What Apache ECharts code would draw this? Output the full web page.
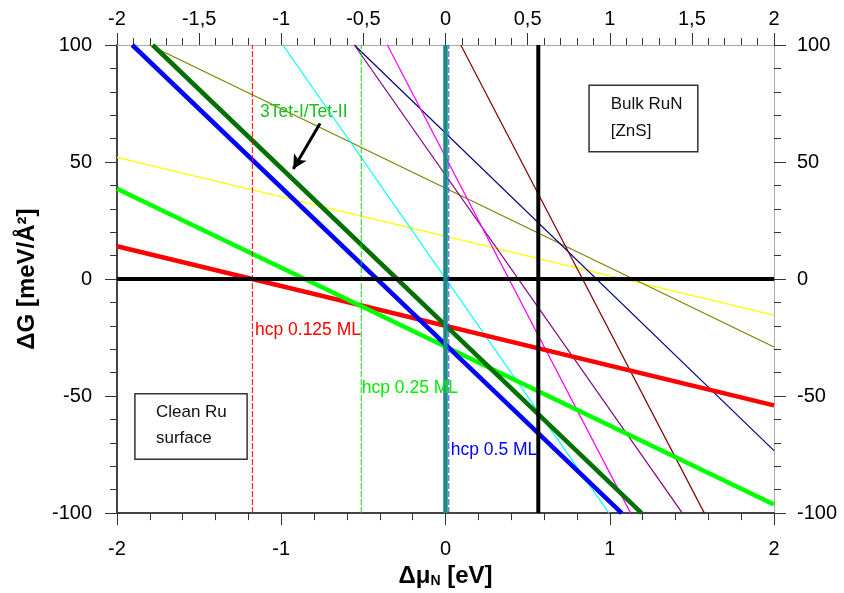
<!DOCTYPE html>
<html>
<head>
<meta charset="utf-8">
<script src="https://cdn.jsdelivr.net/npm/echarts@6/dist/echarts.min.js"></script>
<style>html,body{margin:0;padding:0;background:#fff;}#c{width:844px;height:593px;}</style>
</head>
<body>
<div id="c"></div>
<script>
// ---- data (x = Δμ_N [eV], y = ΔG [meV/Å²]) ----
const hcp0125   = [[-2, 14], [2, -54]];          // red thick
const hcp025    = [[-2, 38.6], [2, -96.3]];      // light green thick
const hcp05     = [[-1.907, 100], [1.073, -100]]; // blue thick
const tet3      = [[-1.783, 100], [1.194, -100]]; // dark green thick
const yellowL   = [[-2, 52], [2, -15.4]];
const oliveL    = [[-1.803, 100], [2, -29]];
const cyanL     = [[-0.99, 100], [0.995, -100]];
const navyL     = [[-0.555, 100], [2, -73.3]];
const purpleL   = [[-0.555, 100], [1.442, -100]];
const magentaL  = [[-0.354, 100], [1.127, -100]];
const brownL    = [[0.093, 100], [1.576, -100]];
const zeroLine  = [[-2, 0], [2, 0]];
const vRed      = [[-1.176, -100], [-1.176, 100]];
const vGreen    = [[-0.513, -100], [-0.513, 100]];
const vTeal     = [[0, -100], [0, 100]];
const vBlue     = [[0.02, -100], [0.02, 100]];
const vBlack    = [[0.565, -100], [0.565, 100]];
const arrowFrom = [-0.764, 66.5];
const arrowTo   = [-0.927, 47];
const labels = [
  {text: '3Tet-I/Tet-II', at: [-1.129, 71.1], color: '#1fbf1f'},
  {text: 'hcp 0.125 ML', at: [-1.160, -21.9], color: '#ff0000'},
  {text: 'hcp 0.25 ML',  at: [-0.510, -46.5], color: '#00ee00'},
  {text: 'hcp 0.5 ML',   at: [0.032, -73.0], color: '#0000ff'}
];
const boxes = [
  {lines: ['Bulk RuN', '[ZnS]'], box: [0.874, 82.8, 1.536, 54.4], textX: 1.006, lineY: [74.6, 63.0]},
  {lines: ['Clean Ru', 'surface'], box: [-1.891, -49.0, -1.208, -77.0], textX: -1.763, lineY: [-56.8, -68.1]}
];

const FONT = 'Liberation Sans, Arial, Helvetica, sans-serif';
const chart = echarts.init(document.getElementById('c'));

function ln(data, color, width, type, z) {
  return {type: 'line', data: data, showSymbol: false, symbol: 'none', silent: true,
    animation: false, clip: true, z: z || 2,
    lineStyle: {color: color, width: width, type: type || 'solid', dashOffset: 0, cap: 'butt'}};
}

const tickStyle = {color: '#333', width: 1};
function xAxis(pos, interval, fmt, margin, lineColor) {
  return {type: 'value', position: pos, min: -2, max: 2, interval: interval,
    axisLine: {show: true, onZero: false, lineStyle: {color: lineColor, width: pos === 'bottom' ? 2 : 1}},
    axisTick: {show: true, length: 12, lineStyle: tickStyle},
    minorTick: {show: true, splitNumber: 5, length: 7, lineStyle: tickStyle},
    splitLine: {show: false},
    axisLabel: {color: '#000', fontSize: 20, fontFamily: FONT, margin: margin, formatter: fmt}};
}
function yAxis(pos, margin, lineColor) {
  return {type: 'value', position: pos, min: -100, max: 100, interval: 50,
    axisLine: {show: true, onZero: false, lineStyle: {color: lineColor, width: pos === 'left' ? 2 : 1}},
    axisTick: {show: true, length: 12, lineStyle: tickStyle},
    minorTick: {show: true, splitNumber: 5, length: 7, lineStyle: tickStyle},
    splitLine: {show: false},
    axisLabel: {color: '#000', fontSize: 20, fontFamily: FONT, margin: margin}};
}

const xb = xAxis('bottom', 1, v => String(v), 26, '#444');
xb.name = '{a|Δμ}{b|N}{a| [eV]}';
xb.nameLocation = 'middle';
xb.nameGap = 50;
xb.nameTextStyle = {rich: {
  a: {fontSize: 24, fontWeight: 'bold', fontFamily: FONT, color: '#000'},
  b: {fontSize: 14, fontWeight: 'bold', fontFamily: FONT, color: '#000', verticalAlign: 'bottom', padding: [10, 0, 0, 0]}
}};
const xt = xAxis('top', 0.5, v => String(v).replace('.', ','), 16, '#aaa');

const yl = yAxis('left', 25, '#444');
yl.name = 'ΔG [meV/Å²]';
yl.nameLocation = 'middle';
yl.nameGap = 78;
yl.nameTextStyle = {fontSize: 24, fontWeight: 'bold', fontFamily: FONT, color: '#000'};
const yr = yAxis('right', 23, '#aaa');

const arrowSeries = ln([], '#000', 1, 'solid', 6);
arrowSeries.markLine = {silent: true, animation: false, symbol: ['none', 'arrow'], symbolSize: [11, 14],
  label: {show: false}, lineStyle: {color: '#000', width: 3, type: 'solid'},
  emphasis: {disabled: true},
  data: [[{coord: arrowFrom}, {coord: arrowTo}]]};

chart.setOption({
  animation: false,
  backgroundColor: '#fff',
  grid: {left: 117, right: 70, top: 45, bottom: 76, containLabel: false},
  xAxis: [xb, xt],
  yAxis: [yl, yr],
  series: [
    ln(yellowL, '#ffff00', 1.2),
    ln(oliveL, '#808000', 1.2),
    ln(cyanL, '#00ffff', 1.2),
    ln(navyL, '#000080', 1.2),
    ln(purpleL, '#800080', 1.2),
    ln(magentaL, '#ff00ff', 1.2),
    ln(brownL, '#800000', 1.2),
    ln(hcp0125, '#ff0000', 4.5, 'solid', 3),
    ln(hcp025, '#00ff00', 4.5, 'solid', 3),
    ln(hcp05, '#0000ff', 4.5, 'solid', 3),
    ln(tet3, '#007000', 4.5, 'solid', 3),
    ln(vRed, '#ff0000', 1, [6, 2], 4),
    ln(vGreen, '#00dd00', 1, [6, 2], 4),
    ln(zeroLine, '#000000', 4, 'solid', 4),
    ln(vBlack, '#000000', 4, 'solid', 4),
    ln(vTeal, '#1a8a8a', 4.5, 'solid', 5),
    ln(vBlue, '#3344ff', 1, [6, 2], 6),
    arrowSeries
  ]
});

const px = p => chart.convertToPixel({gridIndex: 0}, p);
const graphic = [];
labels.forEach(l => {
  const p = px(l.at);
  graphic.push({type: 'text', z: 100, style: {text: l.text, x: p[0], y: p[1], fill: l.color,
    font: '17.5px ' + FONT, verticalAlign: 'middle', align: 'left'}});
});
boxes.forEach(b => {
  const p1 = px([b.box[0], b.box[1]]), p2 = px([b.box[2], b.box[3]]);
  graphic.push({type: 'rect', z: 99, shape: {x: p1[0], y: p1[1], width: p2[0] - p1[0], height: p2[1] - p1[1]},
    style: {fill: '#fff', stroke: '#333', lineWidth: 1.5}});
  b.lines.forEach((t, i) => {
    const p = px([b.textX, b.lineY[i]]);
    graphic.push({type: 'text', z: 100, style: {text: t, x: p[0], y: p[1], fill: '#111',
      font: '17px ' + FONT, verticalAlign: 'middle', align: 'left'}});
  });
});
chart.setOption({graphic: graphic});
</script>
</body>
</html>
